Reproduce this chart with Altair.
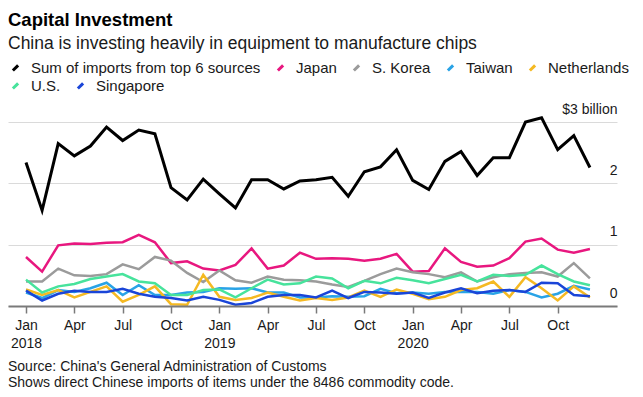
import altair as alt
import pandas as pd

months = list(range(36))  # Jan 2018 .. Dec 2020

row1_names = ["Sum of imports from top 6 sources", "Japan", "S. Korea", "Taiwan", "Netherlands"]
row1_colors = ["#000000", "#e8177f", "#9b9b9b", "#29a3e6", "#f5b922"]
row2_names = ["U.S.", "Singapore"]
row2_colors = ["#47e39c", "#1a45d8"]

total = [2.34, 1.56, 2.65, 2.45, 2.61, 2.92, 2.70, 2.87, 2.81, 1.93, 1.73, 2.07,
         1.83, 1.60, 2.06, 2.06, 1.91, 2.04, 2.06, 2.10, 1.79, 2.19, 2.27, 2.55,
         2.05, 1.90, 2.36, 2.52, 2.13, 2.42, 2.42, 3.00, 3.07, 2.55, 2.78, 2.26]
japan = [0.80, 0.56, 0.99, 1.02, 1.01, 1.03, 1.04, 1.16, 1.04, 0.70, 0.73, 0.61,
         0.58, 0.67, 0.94, 0.61, 0.66, 0.87, 0.77, 0.78, 0.77, 0.74, 0.77, 0.85,
         0.56, 0.57, 0.94, 0.72, 0.64, 0.66, 0.78, 1.05, 1.10, 0.92, 0.87, 0.93]
korea = [0.40, 0.40, 0.61, 0.50, 0.49, 0.52, 0.68, 0.60, 0.80, 0.74, 0.54, 0.39,
         0.58, 0.42, 0.38, 0.48, 0.43, 0.42, 0.40, 0.35, 0.31, 0.41, 0.52, 0.61,
         0.55, 0.52, 0.47, 0.55, 0.40, 0.47, 0.52, 0.54, 0.55, 0.48, 0.70, 0.45]
taiwan = [0.22, 0.13, 0.26, 0.23, 0.29, 0.38, 0.18, 0.34, 0.18, 0.18, 0.22, 0.23,
          0.29, 0.28, 0.29, 0.22, 0.22, 0.14, 0.14, 0.16, 0.15, 0.16, 0.28, 0.21,
          0.22, 0.20, 0.23, 0.23, 0.23, 0.20, 0.26, 0.23, 0.14, 0.20, 0.33, 0.27]
netherlands = [0.27, 0.18, 0.26, 0.14, 0.23, 0.32, 0.07, 0.18, 0.32, 0.03, 0.02, 0.51,
               0.15, 0.10, 0.13, 0.22, 0.15, 0.09, 0.13, 0.10, 0.14, 0.25, 0.15, 0.27,
               0.20, 0.11, 0.15, 0.26, 0.29, 0.40, 0.15, 0.47, 0.29, 0.09, 0.32, 0.14]
us = [0.43, 0.22, 0.32, 0.36, 0.44, 0.48, 0.52, 0.40, 0.37, 0.18, 0.18, 0.26,
      0.27, 0.14, 0.29, 0.43, 0.35, 0.37, 0.48, 0.45, 0.29, 0.41, 0.37, 0.46,
      0.42, 0.37, 0.44, 0.51, 0.40, 0.51, 0.49, 0.51, 0.66, 0.52, 0.40, 0.34]
singapore = [0.25, 0.09, 0.20, 0.25, 0.23, 0.23, 0.28, 0.20, 0.15, 0.13, 0.09, 0.15,
             0.10, 0.02, 0.05, 0.15, 0.18, 0.18, 0.14, 0.25, 0.13, 0.23, 0.22, 0.20,
             0.22, 0.13, 0.22, 0.29, 0.21, 0.25, 0.26, 0.23, 0.38, 0.37, 0.18, 0.16]

x_ticks = [0, 3, 6, 9, 12, 15, 18, 21, 24, 27, 30, 33]
y_ticks = [0, 1, 2, 3]
footer_lines = ["Source: China's General Administration of Customs",
                "Shows direct Chinese imports of items under the 8486 commodity code."]


def make_df(names, values):
    rows = []
    for name, vals in zip(names, values):
        for m, v in zip(months, vals):
            rows.append({"series": name, "month": m, "value": v})
    return pd.DataFrame(rows)


df1 = make_df(row1_names, [total, japan, korea, taiwan, netherlands])
df2 = make_df(row2_names, [us, singapore])

FONT = "Liberation Sans"
TXT = "#1a1a1a"

x_label_expr = (
    "(datum.value % 12 == 0) ? [['Jan','Apr','Jul','Oct'][floor((datum.value % 12) / 3)], '' + (2018 + datum.value / 12)]"
    " : ['Jan','Apr','Jul','Oct'][floor((datum.value % 12) / 3)]"
)

x_enc = alt.X("month:Q",
              scale=alt.Scale(domain=[-1.117, 36.68], nice=False, zero=False),
              axis=alt.Axis(values=x_ticks, labelExpr=x_label_expr, title=None, grid=False,
                            domainColor="#7a7a7a", domainWidth=2, tickColor="#7a7a7a",
                            tickWidth=1.5, tickSize=7, labelPadding=5, labelFontSize=14,
                            labelColor=TXT, labelFont=FONT, labelLineHeight=18,
                            zindex=1))
y_enc = alt.Y("value:Q",
              scale=alt.Scale(domain=[0, 3.1], nice=False),
              axis=alt.Axis(orient="right", values=y_ticks, title=None, grid=True,
                            gridColor="#dadada", gridWidth=1, domain=False, ticks=False,
                            tickSize=0, labelPadding=0, labelAlign="right",
                            labelBaseline="bottom", labelOffset=-6, labelFontSize=14,
                            labelColor=TXT, labelFont=FONT, format="d",
                            labelExpr="datum.value == 3 ? '$3 billion' : format(datum.value, 'd')"))


def legend_params(y):
    return alt.Legend(orient="none", legendX=0, legendY=y, direction="horizontal",
                      title=None, symbolType="M-0.5,0.5L0.5,-0.5",
                      symbolSize=110, symbolStrokeWidth=3,
                      labelFontSize=15, labelFont=FONT, labelColor=TXT,
                      labelOffset=8, columnPadding=10, labelLimit=400)


lines1 = alt.Chart(df1).mark_line(strokeJoin="miter", strokeCap="butt").encode(
    x=x_enc,
    y=y_enc,
    stroke=alt.Stroke("series:N",
                      scale=alt.Scale(domain=row1_names, range=row1_colors),
                      sort=row1_names, legend=legend_params(-56)),
    strokeWidth=alt.condition(alt.datum.series == row1_names[0], alt.value(3), alt.value(2.5)),
    detail="series:N",
)

lines2 = alt.Chart(df2).mark_line(strokeJoin="miter", strokeCap="butt", strokeWidth=2.5).encode(
    x=alt.X("month:Q"),
    y=alt.Y("value:Q"),
    color=alt.Color("series:N",
                    scale=alt.Scale(domain=row2_names, range=row2_colors),
                    sort=row2_names, legend=legend_params(-38)),
    detail="series:N",
)

footer_df = pd.DataFrame({"text": footer_lines, "line": [0, 1]})
footer = alt.Chart(footer_df).mark_text(align="left", baseline="middle", fontSize=14,
                                        font=FONT, color=TXT).encode(
    x=alt.value(0),
    y=alt.Y("line:Q", scale=alt.Scale(domain=[0, 1], range=[251, 267]), axis=None),
    text="text:N",
)

data_layer = alt.layer(lines1, lines2)

chart = alt.layer(data_layer, footer).resolve_scale(y="independent").properties(
    width=609,
    height=190,
    autosize=alt.AutoSizeParams(type="none"),
    padding={"left": 0, "top": 108, "right": 18, "bottom": 83},
    title=alt.TitleParams(
        text="Capital Investment",
        subtitle="China is investing heavily in equipment to manufacture chips",
        anchor="start", frame="group", fontSize=18.5, font=FONT, fontWeight="bold",
        color="#000000", subtitleFontSize=17.5, subtitleFont=FONT, subtitleColor=TXT,
        subtitlePadding=5, offset=8, orient="top",
    ),
).configure_view(stroke=None)

chart.save("out.html", embed_options={"renderer": "svg", "actions": False})
